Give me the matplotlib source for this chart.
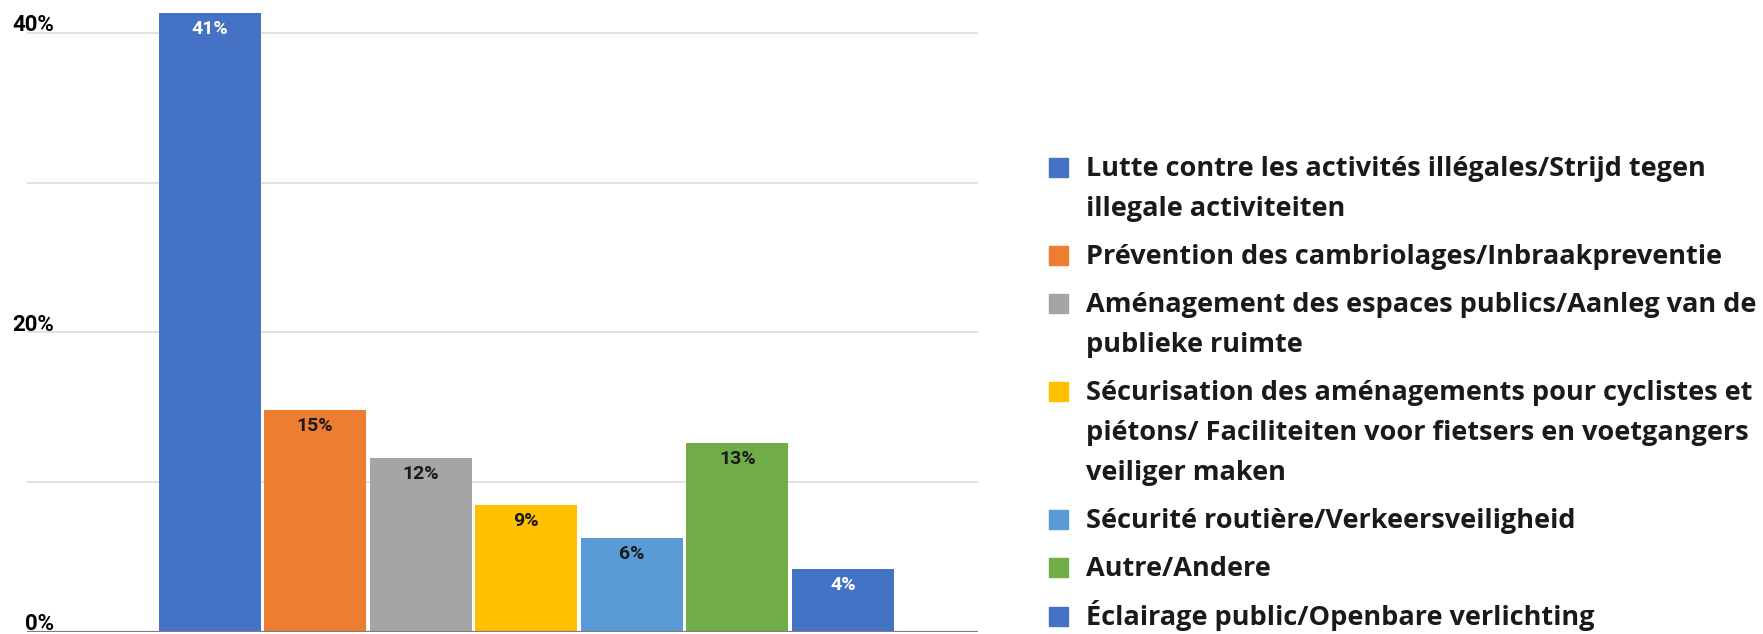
import matplotlib
matplotlib.use("Agg")
import matplotlib.pyplot as plt
from matplotlib.patches import Rectangle
from matplotlib.transforms import blended_transform_factory, offset_copy

# ---- data ----
categories = [
    "Lutte contre les activités illégales/Strijd tegen\nillegale activiteiten",
    "Prévention des cambriolages/Inbraakpreventie",
    "Aménagement des espaces publics/Aanleg van de\npublieke ruimte",
    "Sécurisation des aménagements pour cyclistes et\npiétons/ Faciliteiten voor fietsers en voetgangers\nveiliger maken",
    "Sécurité routière/Verkeersveiligheid",
    "Autre/Andere",
    "Éclairage public/Openbare verlichting",
]
values = [41.3, 14.8, 11.6, 8.5, 6.3, 12.6, 4.2]
value_labels = ["41%", "15%", "12%", "9%", "6%", "13%", "4%"]
colors = ["#4472C4", "#ED7D31", "#A5A5A5", "#FFC000", "#5B9BD5", "#70AD47", "#4472C4"]
label_colors = ["white", "#1a1a1a", "#1a1a1a", "#1a1a1a", "#1a1a1a", "#1a1a1a", "white"]
grid_ticks = [10, 20, 30, 40]
labeled_ticks = [0, 20, 40]
tick_labels = ["0%", "20%", "40%"]

W, H = 1763, 634
fig = plt.figure(figsize=(W / 100, H / 100), dpi=100)
fig.patch.set_facecolor("white")

ax = fig.add_axes([27 / W, 2 / H, 951 / W, 632 / H])
ax.set_xlim(-1.73, 7.28)
ax.set_ylim(0, 42.2)
for s in ax.spines.values():
    s.set_visible(False)
ax.set_xticks([])
ax.set_yticks([])

for t in grid_ticks:
    ax.axhline(t, color="#d9d9d9", lw=1.1, zorder=0)
ax.axhline(0, color="#7f7f7f", lw=1.6, zorder=3)

x = list(range(len(values)))
bars = ax.bar(x, values, width=0.965, color=colors, zorder=2)

for xi, v, lab, lc in zip(x, values, value_labels, label_colors):
    ax.annotate(lab, (xi, v), xytext=(0, -11.5), textcoords="offset points",
                ha="center", va="center", color=lc, fontsize=14,
                fontweight="bold", family=["Roboto", "DejaVu Sans"], zorder=4)

trans = blended_transform_factory(ax.transAxes, ax.transData)
trans = offset_copy(trans, fig=fig, x=0, y=-3.5, units="dots")
for t, lab in zip(labeled_ticks, tick_labels):
    ax.text(27 / 951, t, lab, transform=trans, ha="right", va="bottom",
            fontsize=16, fontweight="bold", family=["Roboto", "DejaVu Sans"],
            color="black")

# ---- legend (manual layout) ----
line_gap = 39.5
entry_gap = 48.5
yc = 167
for cat, col in zip(categories, colors):
    lines = cat.split("\n")
    fig.patches.append(Rectangle((1049 / W, 1 - (yc + 9.5) / H), 19 / W, 19 / H,
                                 transform=fig.transFigure, color=col))
    for i, ln in enumerate(lines):
        yl = yc + i * line_gap
        fig.text(1086 / W, 1 - (yl + 9) / H, ln, ha="left", va="baseline",
                 fontsize=19.5, fontweight="bold",
                 family=["Open Sans", "DejaVu Sans"], color="#1a1a1a")
    yc += entry_gap + (len(lines) - 1) * line_gap

fig.savefig("out.png", dpi=100)
